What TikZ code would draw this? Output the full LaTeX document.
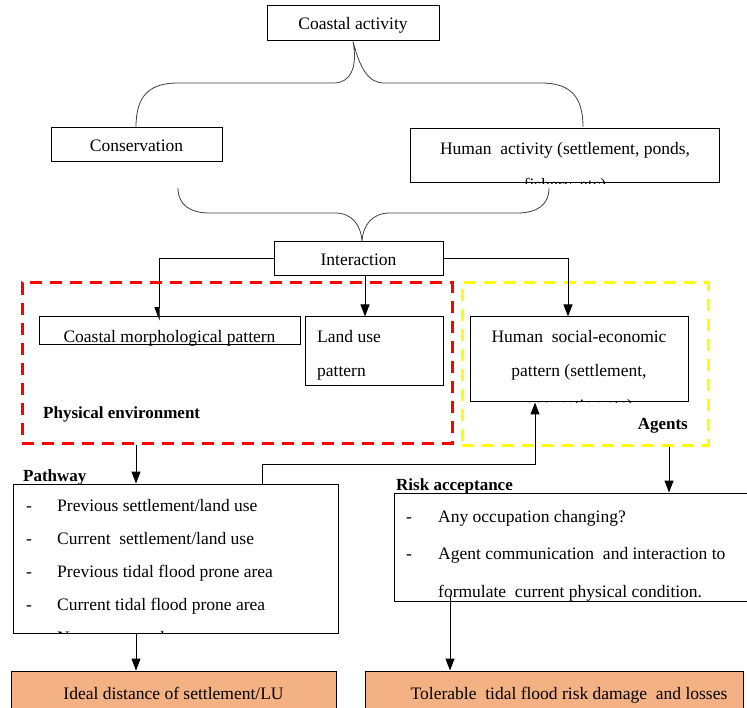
\documentclass[tikz,border=0pt]{standalone}
\usepackage{fontspec}
\setmainfont{Liberation Serif}
\usetikzlibrary{arrows.meta,calc}
\definecolor{boxorange}{HTML}{F4B183}
\definecolor{dashred}{HTML}{FF0000}
\definecolor{dashyellow}{HTML}{FFFF00}
\begin{document}
\begin{tikzpicture}[x=1pt,y=-1pt,
  font=\fontsize{17.5}{33}\selectfont,
  box/.style={draw=black, line width=1pt, inner sep=0pt},
  orangebox/.style={box, fill=boxorange},
  txt/.style={inner sep=0pt, anchor=base},
  lbl/.style={inner sep=0pt, anchor=base, font=\fontsize{17}{20}\selectfont\bfseries},
  brace/.style={draw=black!75, line width=0.8pt},
  arr/.style={draw=black, line width=1pt, -{Triangle[length=12pt,width=9pt]}},
  halfarr/.style={draw=black, line width=1pt, -{Triangle[length=12pt,width=9pt,harpoon,swap]}},
  reddash/.style={draw=dashred, line width=3pt, dash pattern=on 12pt off 8pt},
  yellowdash/.style={draw=dashyellow, line width=3pt, dash pattern=on 12pt off 8pt}]
\useasboundingbox (0,0) rectangle (747,708);

% dashed groups
\node[reddash, minimum width=430pt, minimum height=160pt, inner sep=0pt] (phys) at (237,363) {};
\node[yellowdash, minimum width=246pt, minimum height=162pt, inner sep=0pt] (agentsgrp) at (585,364) {};

% boxes
\node[box, minimum width=172pt, minimum height=35pt] (ca) at (353,23.5) {};
\node[txt] at (353,30) {Coastal activity};

\node[box, minimum width=171pt, minimum height=34pt] (cons) at (136.5,145) {};
\node[txt] at (136.5,152) {Conservation};

\node[box, fill=white, minimum width=309pt, minimum height=54pt] (hum) at (564.5,156) {};
\begin{scope}
\clip (hum.north west) rectangle (hum.south east);
\node[txt] at (565,155) {Human\ \ activity (settlement, ponds,};
\node[txt] at (565,191) {fishery, etc)};
\end{scope}

\node[box, minimum width=169pt, minimum height=34pt] (int) at (358.5,259) {};
\node[txt] at (358.5,266) {Interaction};

\node[box, minimum width=261pt, minimum height=28pt] (cmp) at (169.5,331) {};
\begin{scope}
\clip (cmp.north west) rectangle (cmp.south east);
\node[txt] at (169.5,343) {Coastal morphological pattern};
\end{scope}

\node[box, minimum width=138pt, minimum height=69pt] (lu) at (374,351.5) {};
\node[txt, anchor=base west] at (317,343) {Land use};
\node[txt, anchor=base west] at (317,377) {pattern};

\node[box, minimum width=218pt, minimum height=85pt] (hse) at (579,359.5) {};
\begin{scope}
\clip (hse.north west) rectangle (hse.south east);
\node[txt] at (579,343) {Human\ \ social-economic};
\node[txt] at (579,377) {pattern (settlement,};
\node[txt] at (579,411) {occupation etc)};
\end{scope}

\node[lbl, anchor=base west] at (43,418) {Physical environment};
\node[lbl, anchor=base east] at (688,429) {Agents};

\node[lbl, anchor=base west] at (23,481) {Pathway};
\node[box, minimum width=325pt, minimum height=149pt] (pw) at (175.5,558.5) {};
\begin{scope}
\clip (pw.north west) rectangle (pw.south east);
\node[txt, anchor=base west] at (26,511) {-};
\node[txt, anchor=base west] at (57,511) {Previous settlement/land use};
\node[txt, anchor=base west] at (26,544) {-};
\node[txt, anchor=base west] at (57,544) {Current\ \ settlement/land use};
\node[txt, anchor=base west] at (26,577) {-};
\node[txt, anchor=base west] at (57,577) {Previous tidal flood prone area};
\node[txt, anchor=base west] at (26,610) {-};
\node[txt, anchor=base west] at (57,610) {Current tidal flood prone area};
\node[txt, anchor=base west] at (26,643) {-};
\node[txt, anchor=base west] at (57,643) {Near coast settlement};
\end{scope}

\node[lbl, anchor=base west] at (396,490) {Risk acceptance};
\node[box, minimum width=360pt, minimum height=108pt] (risk) at (574,547) {};
\node[txt, anchor=base west] at (406,522) {-};
\node[txt, anchor=base west] at (438,522) {Any occupation changing?};
\node[txt, anchor=base west] at (406,559) {-};
\node[txt, anchor=base west] at (438,559) {Agent communication\ \ and interaction\ to};
\node[txt, anchor=base west] at (438,597) {formulate\ \ current physical condition.};

\node[orangebox, minimum width=325pt, minimum height=50pt] (ideal) at (173.5,696) {};
\node[txt] at (173.5,699) {Ideal distance of settlement/LU};

\node[orangebox, minimum width=378pt, minimum height=50pt] (tol) at (554,696) {};
\node[txt] at (569,699) {Tolerable\ \ tidal flood risk damage\ \ and losses};

% braces
\coordinate (b1l) at (136,127);
\coordinate (b1r) at (583,127);
\draw[brace] (b1l) .. controls (136,95) and (150,83) .. (178,83) -- (334,83)
  .. controls (350,83) and (358,68) .. (ca.south)
  .. controls (360,68) and (368,83) .. (384,83) -- (541,83)
  .. controls (569,83) and (583,95) .. (b1r);
\coordinate (b2l) at (178,188);
\coordinate (b2r) at (549,188);
\draw[brace] (b2l) .. controls (178,205) and (190,213) .. (210,213) -- (335,213)
  .. controls (352,213) and (361,225) .. ([xshift=3.5pt]int.north)
  .. controls (363,225) and (372,213) .. (390,213) -- (517,213)
  .. controls (537,213) and (549,205) .. (b2r);

% arrows
\draw[halfarr] (int.west) -| ([xshift=-10.5pt,yshift=-4pt]cmp.north);
\draw[arr] ([xshift=6.5pt]int.south) -- ([xshift=-9pt]lu.north);
\draw[arr] (int.east) -| ([xshift=-11pt]hse.north);
\draw[arr] ([xshift=-101pt]phys.south) -- ([xshift=-39.5pt]pw.north);
\draw[arr] ([xshift=86.5pt]pw.north) |- ++(0,-19) -| ([xshift=-44pt]hse.south);
\draw[arr] ([xshift=84pt]agentsgrp.south) -- ([xshift=95pt]risk.north);
\draw[arr] ([xshift=-39.5pt]pw.south) -- ([xshift=-37.5pt]ideal.north);
\draw[arr] ([xshift=-124pt,yshift=6pt]risk.south) -- ([xshift=-104pt]tol.north);
\end{tikzpicture}
\end{document}
